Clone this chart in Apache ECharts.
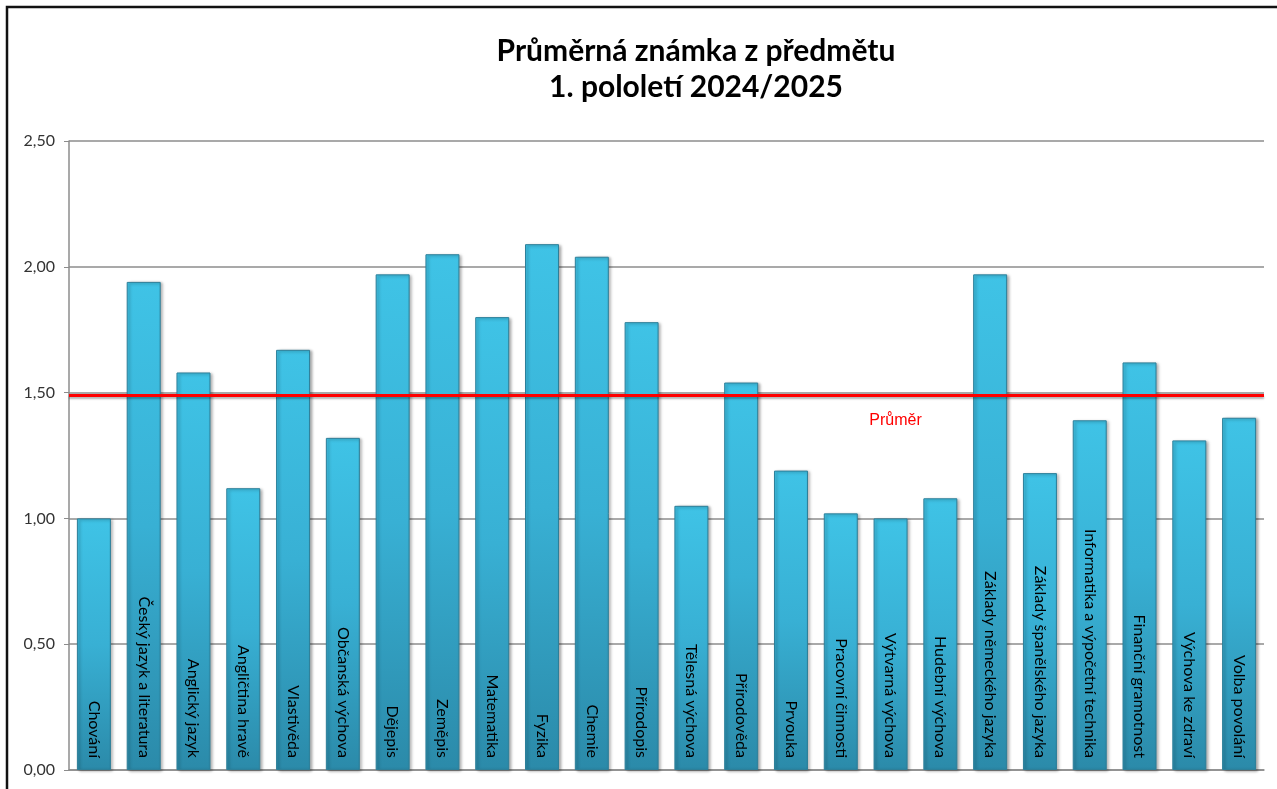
<!DOCTYPE html>
<html>
<head>
<meta charset="utf-8">
<script src="https://cdn.jsdelivr.net/npm/echarts@6/dist/echarts.min.js"></script>
<style>
  html, body { margin: 0; padding: 0; background: #fff; }
  #chart { width: 1277px; height: 789px; }
</style>
</head>
<body>
<div id="chart"></div>
<script>
const subjects = [
  "Chování", "Český jazyk a literatura", "Anglický jazyk", "Angličtina hravě",
  "Vlastivěda", "Občanská výchova", "Dějepis", "Zeměpis", "Matematika",
  "Fyzika", "Chemie", "Přírodopis", "Tělesná výchova", "Přírodověda",
  "Prvouka", "Pracovní činnosti", "Výtvarná výchova", "Hudební výchova",
  "Základy německého jazyka", "Základy španělského jazyka",
  "Informatika a výpočetní technika", "Finanční gramotnost",
  "Výchova ke zdraví", "Volba povolání"
];
const grades = [
  1.00, 1.94, 1.58, 1.12, 1.67, 1.32, 1.97, 2.05, 1.80, 2.09, 2.04, 1.78,
  1.05, 1.54, 1.19, 1.02, 1.00, 1.08, 1.97, 1.18, 1.39, 1.62, 1.31, 1.40
];
const average = 1.49;
const yTicks = [0, 0.5, 1, 1.5, 2, 2.5];

var myChart = echarts.init(document.getElementById("chart"));

var option = {
  animation: false,
  title: {
    text: "Průměrná známka z předmětu\n1. pololetí 2024/2025",
    left: 691,
    top: 28,
    textAlign: "center",
    textStyle: {
      fontFamily: "Lato",
      fontWeight: "bold",
      fontSize: 30,
      lineHeight: 36,
      color: "#000",
    },
  },
  graphic: [
    {
      type: "rect",
      shape: { x: 7, y: 7, width: 1300, height: 820 },
      style: { fill: "none", stroke: "#111", lineWidth: 2.5 },
      silent: true,
    },
  ],
  grid: {
    left: 69,
    right: 13,
    top: 141,
    bottom: 19,
  },
  xAxis: {
    type: "category",
    data: subjects,
    axisLabel: { show: false },
    axisTick: { show: false },
    axisLine: { lineStyle: { color: "#8c8c8c", width: 1.5 } },
  },
  yAxis: {
    type: "value",
    min: yTicks[0],
    max: yTicks[yTicks.length - 1],
    interval: 0.5,
    axisLine: { show: true, lineStyle: { color: "#8c8c8c", width: 1.5 } },
    axisTick: { show: true, length: 5, lineStyle: { color: "#8c8c8c" } },
    splitLine: { lineStyle: { color: "#8c8c8c", width: 1.5 } },
    axisLabel: {
      margin: 14,
      fontFamily: "Lato",
      fontSize: 16,
      color: "#333",
      formatter: function (v) {
        return v.toFixed(2).replace(".", ",");
      },
    },
  },
  series: [
    {
      name: "Průměrná známka",
      type: "bar",
      data: grades,
      barWidth: 34,
      itemStyle: {
        color: new echarts.graphic.LinearGradient(0, 0, 0, 1, [
          { offset: 0, color: "#3fc3e6" },
          { offset: 0.5, color: "#38b0d4" },
          { offset: 1, color: "#2b8aa9" },
        ]),
        borderColor: "#2d7f99",
        borderWidth: 1,
        shadowColor: "rgba(0,0,0,0.35)",
        shadowBlur: 3,
        shadowOffsetX: 2,
        shadowOffsetY: 1,
      },
      label: {
        show: true,
        position: "insideBottom",
        distance: 12,
        rotate: -90,
        align: "right",
        verticalAlign: "middle",
        formatter: "{b}",
        fontFamily: "Lato",
        fontSize: 16,
        color: "#000",
      },
      markLine: {
        silent: true,
        symbol: "none",
        data: [{ yAxis: average, name: "Průměr" }],
        lineStyle: {
          color: "#ff0000",
          width: 3,
          type: "solid",
          shadowColor: "rgba(0,0,0,0.3)",
          shadowOffsetY: 2,
          shadowBlur: 2,
        },
        label: {
          show: true,
          position: "insideMiddleBottom",
          formatter: "Průměr",
          offset: [229, 12],
          fontFamily: "Liberation Sans",
          fontSize: 16,
          color: "#ff0000",
        },
      },
    },
  ],
};

option && myChart.setOption(option);
</script>
</body>
</html>
